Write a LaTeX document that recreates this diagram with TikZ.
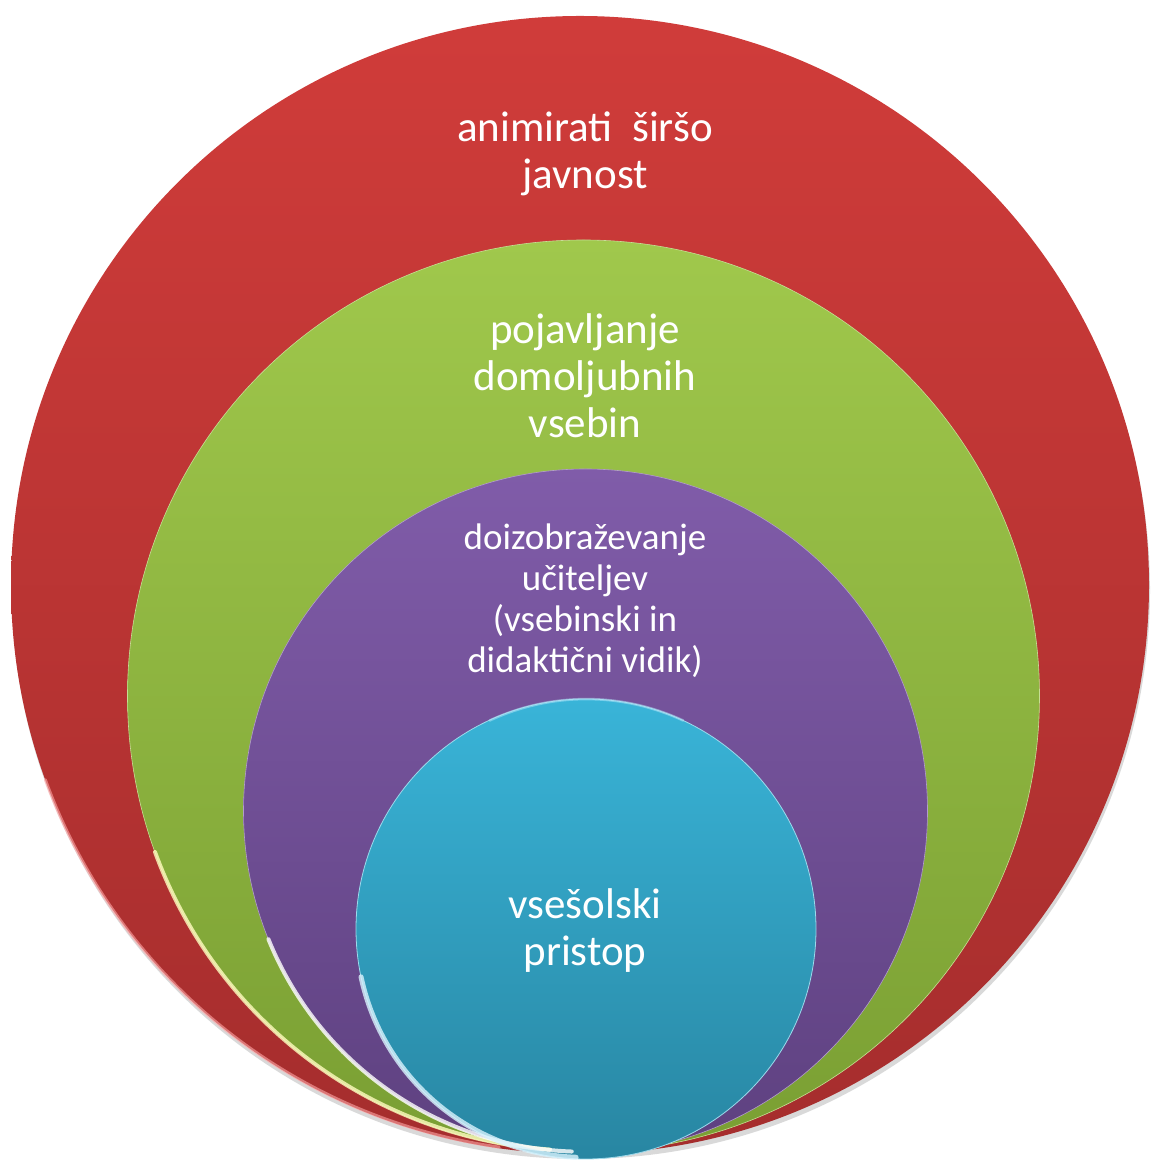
\documentclass[tikz,border=0pt]{standalone}
\usepackage{fontspec}
\setmainfont{Carlito}
\begin{document}
\begin{tikzpicture}[x=1pt,y=1pt,
  ring/.style={circle, inner sep=0pt, outer sep=0pt},
  lbl/.style={text=white, align=center, inner sep=0pt},
  rim/.style={line cap=round, white, opacity=0.8, line width=4pt}]
\useasboundingbox (0,0) rectangle (1151,1162);
\definecolor{redT}{HTML}{D03C3A}\definecolor{redB}{HTML}{A52D2D}
\definecolor{grnT}{HTML}{A0C84C}\definecolor{grnB}{HTML}{7A9F33}
\definecolor{purT}{HTML}{805CA9}\definecolor{purB}{HTML}{5E4180}
\definecolor{cyaT}{HTML}{39B4D8}\definecolor{cyaB}{HTML}{2886A2}
% shadow
\fill[black, opacity=0.15] (581,572) circle[radius=569];
\node[ring, minimum size=1138pt, top color=redT, bottom color=redB] (red) at (580,577) {};
\node[ring, minimum size=912pt, top color=grnT, bottom color=grnB, draw=grnT!60!white, line width=0.6pt] (green) at (583.5,466) {};
\node[ring, minimum size=684pt, top color=purT, bottom color=purB, draw=purT!60!white, line width=0.6pt] (purple) at (585.5,351) {};
\node[ring, minimum size=460pt, top color=cyaT, bottom color=cyaB, draw=cyaT!50!white, line width=0.8pt] (cyan) at (586,233) {};
% rim highlights
\draw[rim, red!35!white, opacity=0.6, line width=3pt] (red.200) arc[start angle=200, end angle=262, radius=567];
\draw[rim, yellow!25!white] (green.200) arc[start angle=200, end angle=266, radius=454];
\draw[rim] (purple.202) arc[start angle=202, end angle=268, radius=340];
\draw[rim, cyan!15!white, line width=5pt] (cyan.192) arc[start angle=192, end angle=268, radius=228];
\draw[rim, cyan!30!white, opacity=0.5, line width=2.5pt] (cyan.65) arc[start angle=65, end angle=115, radius=229];
% labels
\node[lbl, font=\fontsize{43}{47}\selectfont] (tred) at (585,1008) {animirati\ \ širšo\\javnost};
\node[lbl, font=\fontsize{43}{47}\selectfont] (tgreen) at (585,786) {pojavljanje\\domoljubnih\\vsebin};
\node[lbl, font=\fontsize{37}{41}\selectfont] (tpurple) at (585,561) {doizobraževanje\\učiteljev\\(vsebinski in\\didaktični vidik)};
\node[lbl, font=\fontsize{43}{47}\selectfont] (tcyan) at (585,231) {vsešolski\\pristop};
\end{tikzpicture}
\end{document}
